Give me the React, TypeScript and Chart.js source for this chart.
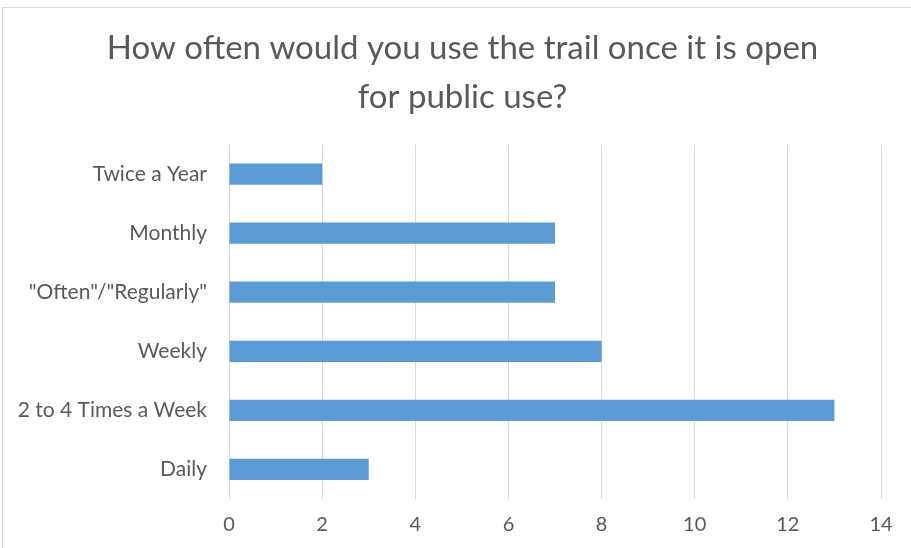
import React, { useEffect, useRef } from "react";
import { Chart, registerables } from "chart.js";

Chart.register(...registerables);

const categories = [
  "Twice a Year",
  "Monthly",
  "\"Often\"/\"Regularly\"",
  "Weekly",
  "2 to 4 Times a Week",
  "Daily",
];
const counts = [2, 7, 7, 8, 13, 3];
const titleLines = ["How often would you use the trail once it is open", "for public use?"];
const xMin = 0;
const xMax = 14;
const xStep = 2;

const FONT = "Lato, 'Open Sans', sans-serif";
const TEXT = "#595959";

const titleShift = {
  id: "titleShift",
  afterLayout(chart: any) {
    const t = chart.titleBlock;
    if (t) {
      t.left = 14;
      t.right = 911;
      t.width = 897;
    }
  },
};

export default function App() {
  const ref = useRef<HTMLCanvasElement | null>(null);
  useEffect(() => {
    if (!ref.current) return;
    const chart = new Chart(ref.current, {
      type: "bar",
      data: {
        labels: categories,
        datasets: [
          {
            data: counts,
            backgroundColor: "#5B9BD5",
            borderWidth: 0,
            categoryPercentage: 1,
            barPercentage: 0.36,
          },
        ],
      },
      plugins: [titleShift],
      options: {
        indexAxis: "y",
        responsive: false,
        animation: false,
        layout: { padding: { left: 0, right: 30, top: 0, bottom: 0 } },
        plugins: {
          legend: { display: false },
          tooltip: { enabled: false },
          title: {
            display: true,
            text: titleLines,
            color: TEXT,
            font: { family: FONT, size: 33, weight: "normal", lineHeight: 49 / 33 },
            padding: { top: 24, bottom: 22.5 },
          },
        },
        scales: {
          x: {
            min: xMin,
            max: xMax,
            ticks: {
              stepSize: xStep,
              color: TEXT,
              padding: 14,
              font: { family: FONT, size: 20 },
            },
            grid: { color: "#d9d9d9", lineWidth: 1, drawTicks: false },
            border: { display: false },
            afterFit: (scale: any) => {
              scale.height = 49;
            },
          },
          y: {
            ticks: {
              color: TEXT,
              padding: 22,
              font: { family: FONT, size: 21 },
            },
            grid: { display: false, drawTicks: false },
            border: { display: false },
            afterFit: (scale: any) => {
              scale.width = 229;
            },
          },
        },
      },
    });
    return () => chart.destroy();
  }, []);

  return (
    <div
      style={{
        position: "fixed",
        left: 0,
        top: 0,
        width: 911,
        height: 548,
        overflow: "hidden",
        background: "#fff",
      }}
    >
      <div
        style={{
          position: "absolute",
          left: 2,
          top: 7,
          width: 940,
          height: 600,
          border: "1px solid #d9d9d9",
        }}
      />
      <canvas ref={ref} width={911} height={548} style={{ position: "absolute", left: 0, top: 0 }} />
    </div>
  );
}
